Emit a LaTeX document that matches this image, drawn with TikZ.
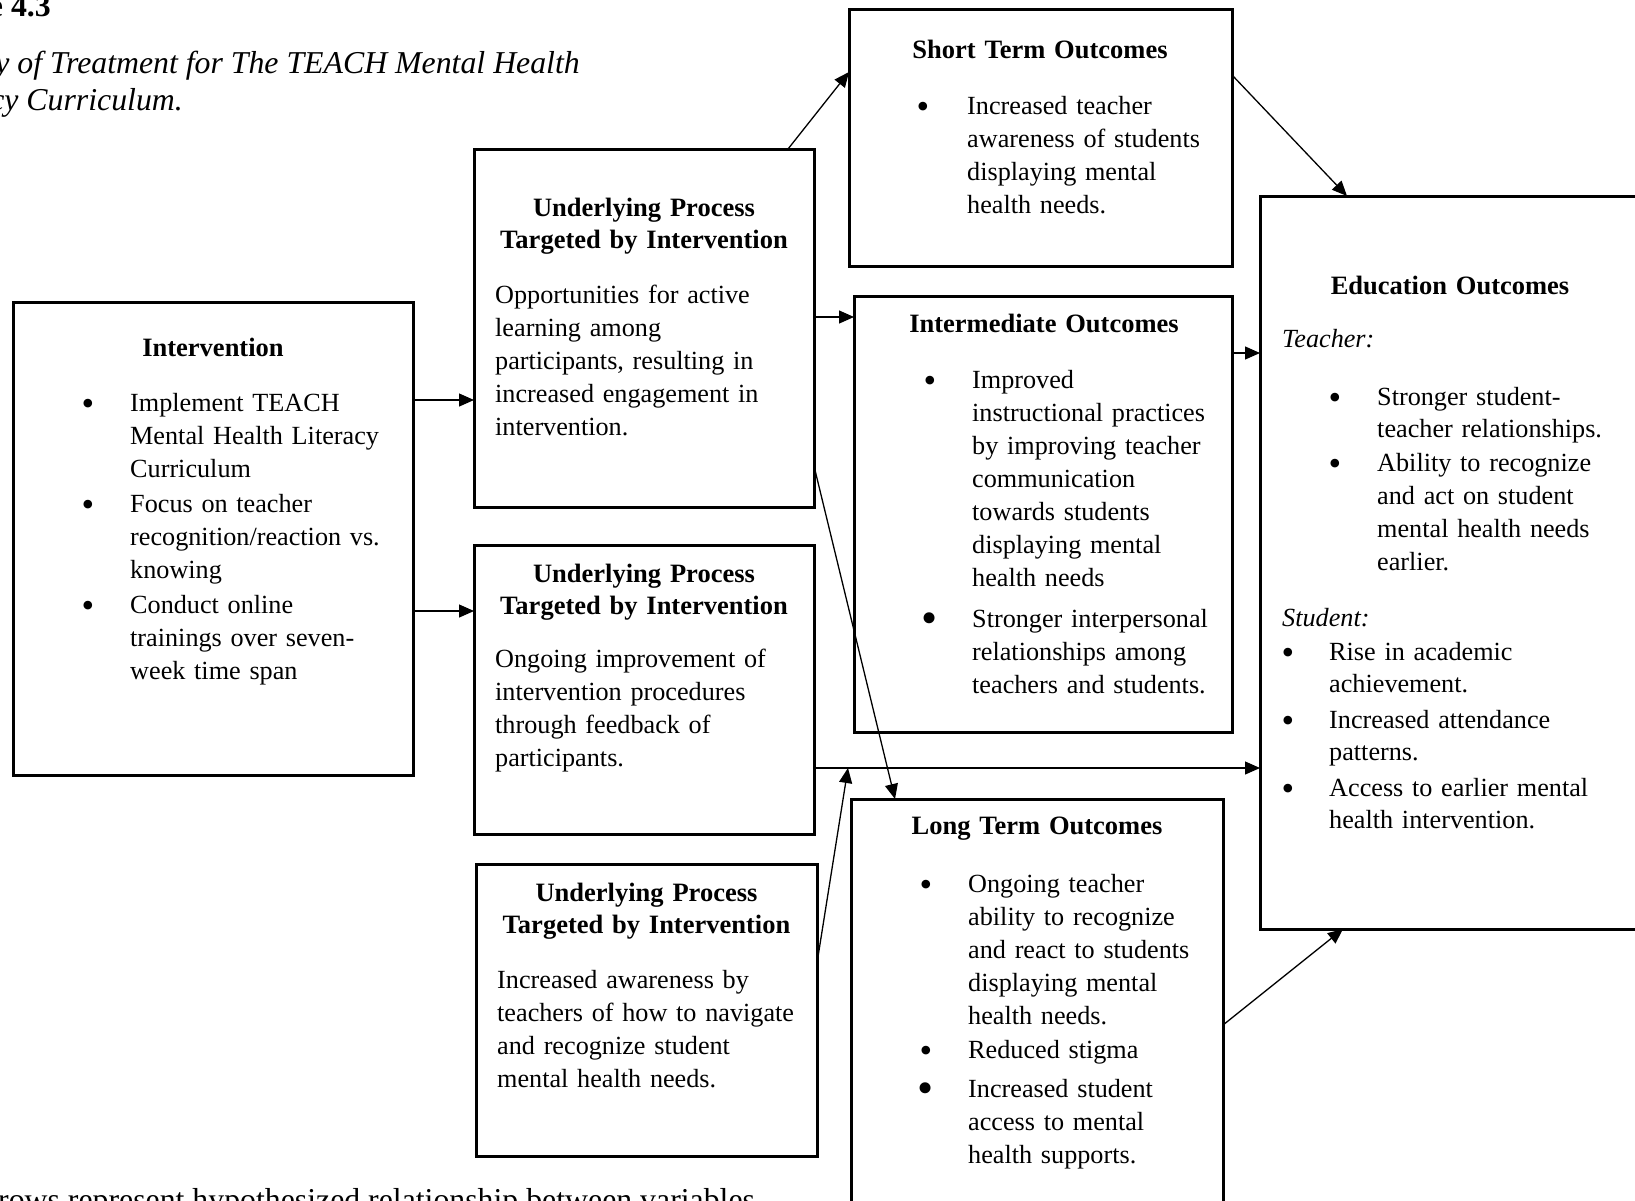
\documentclass[tikz,border=0pt]{standalone}
\usepackage{fontspec}
\setmainfont{Liberation Serif}
\usetikzlibrary{arrows.meta}
\begin{document}
\begin{tikzpicture}[x=1pt,y=-1pt,
  box/.style={draw, line width=3pt, inner sep=0pt, outer sep=0pt},
  arr/.style={line width=1.3pt, -{Triangle[length=15pt,width=13pt]}},
  body/.style={anchor=base west, inner sep=0pt, text width=420pt, align=left, font=\fontsize{26.2pt}{33pt}\selectfont},
  edubody/.style={body, font=\fontsize{26.2pt}{32pt}\selectfont},
  ttl/.style={anchor=base, inner sep=0pt, text width=370pt, align=center, font=\fontsize{26.5pt}{32pt}\selectfont\bfseries},
  bul/.style={anchor=base, inner sep=0pt, yshift=-4pt, font=\fontsize{36pt}{36pt}\selectfont},
  bigbul/.style={anchor=base, inner sep=0pt, yshift=-6.5pt, font=\fontsize{46pt}{46pt}\selectfont},
  captxt/.style={inner sep=0pt, font=\fontsize{31.8pt}{37pt}\selectfont}
]
\useasboundingbox (0,0) rectangle (1635,1200);
\clip (0,0) rectangle (1635,1200);

% page fragments (the reference is cropped from a page)
\node[captxt, anchor=base east] (fig) at (51,16) {\bfseries e 4.3};
\node[captxt, anchor=base east] (cap1) at (580,73) {\itshape y of Treatment for The TEACH Mental Health};
\node[captxt, anchor=base east] (cap2) at (183,110) {\itshape cy Curriculum.};
\node[captxt, anchor=base west] (note) at (-2,1210) {rows represent hypothesized relationship between variables};

% boxes
\node[box, minimum width=400pt, minimum height=473pt] (int) at (213,538.5) {};
\node[box, minimum width=340pt, minimum height=358pt] (up1) at (644,328) {};
\node[box, minimum width=340pt, minimum height=289pt] (up2) at (644,689.5) {};
\node[box, minimum width=341pt, minimum height=292pt] (up3) at (646.5,1010) {};
\node[box, minimum width=383pt, minimum height=257pt] (st) at (1040.5,137.5) {};
\node[box, minimum width=378pt, minimum height=436pt] (im) at (1043,514) {};
\node[box, minimum width=372pt, minimum height=461pt] (lt) at (1037,1029.5) {};
\node[box, minimum width=440pt, minimum height=733pt] (edu) at (1480,562.5) {};

% Intervention
\node[ttl] (intT) at (213,356) {Intervention};
\node[bul] (intB1) at (88,411) {•};
\node[body] (intL1) at (130,411) {Implement TEACH\\Mental Health Literacy\\Curriculum};
\node[bul] (intB2) at (88,512) {•};
\node[body] (intL2) at (130,512) {Focus on teacher\\recognition/reaction vs.\\knowing};
\node[bul] (intB3) at (88,613) {•};
\node[body] (intL3) at (130,613) {Conduct online\\trainings over seven-\\week time span};

% Underlying processes
\node[ttl] (up1T) at (644,216) {Underlying Process\\Targeted by Intervention};
\node[body] (up1L) at (495,303) {Opportunities for active\\learning among\\participants, resulting in\\increased engagement in\\intervention.};
\node[ttl] (up2T) at (644,582) {Underlying Process\\Targeted by Intervention};
\node[body] (up2L) at (495,667) {Ongoing improvement of\\intervention procedures\\through feedback of\\participants.};
\node[ttl] (up3T) at (646.5,901) {Underlying Process\\Targeted by Intervention};
\node[body] (up3L) at (497,988) {Increased awareness by\\teachers of how to navigate\\and recognize student\\mental health needs.};

% Short term
\node[ttl] (stT) at (1040,58) {Short Term Outcomes};
\node[bul] (stB1) at (923,114) {•};
\node[body] (stL1) at (967,114) {Increased teacher\\awareness of students\\displaying mental\\health needs.};

% Intermediate
\node[ttl] (imT) at (1044,332) {Intermediate Outcomes};
\node[bul] (imB1) at (930,388) {•};
\node[body] (imL1) at (972,388) {Improved\\instructional practices\\by improving teacher\\communication\\towards students\\displaying mental\\health needs};
\node[bigbul] (imB2) at (930,627) {•};
\node[body] (imL2) at (972,627) {Stronger interpersonal\\relationships among\\teachers and students.};

% Long term
\node[ttl] (ltT) at (1037,834) {Long Term Outcomes};
\node[bul] (ltB1) at (926,892) {•};
\node[body] (ltL1) at (968,892) {Ongoing teacher\\ability to recognize\\and react to students\\displaying mental\\health needs.};
\node[bul] (ltB2) at (926,1058) {•};
\node[body] (ltL2) at (968,1058) {Reduced stigma};
\node[bigbul] (ltB3) at (926,1097) {•};
\node[body] (ltL3) at (968,1097) {Increased student\\access to mental\\health supports.};

% Education
\node[ttl] (eduT) at (1450,294) {Education Outcomes};
\node[body] (eduTe) at (1282,347) {\itshape Teacher:};
\node[bul] (eduB1) at (1335,405) {•};
\node[edubody] (eduL1) at (1377,405) {Stronger student-\\teacher relationships.};
\node[bul] (eduB2) at (1335,471) {•};
\node[body] (eduL2) at (1377,471) {Ability to recognize\\and act on student\\mental health needs\\earlier.};
\node[body] (eduSt) at (1282,626) {\itshape Student:};
\node[bul] (eduB3) at (1288,660) {•};
\node[edubody] (eduL3) at (1329,660) {Rise in academic\\achievement.};
\node[bul] (eduB4) at (1288,728) {•};
\node[edubody] (eduL4) at (1329,728) {Increased attendance\\patterns.};
\node[bul] (eduB5) at (1288,796) {•};
\node[edubody] (eduL5) at (1329,796) {Access to earlier mental\\health intervention.};

% connectors
\draw[arr] ([yshift=-98pt]int.north east) -- ([yshift=-251pt]up1.north west);
\draw[arr] ([yshift=-309pt]int.north east) -- ([yshift=-66pt]up2.north west);
\draw[arr] ([xshift=314pt]up1.north west) -- ([yshift=-63pt]st.north west);
\draw[arr] ([yshift=-168pt]up1.north east) -- ([yshift=-21pt]im.north west);
\draw[arr] ([yshift=-317pt]up1.north east) -- ([xshift=44pt]lt.north west);
\draw[arr] ([yshift=-223pt]up2.north east) -- coordinate[pos=0.0762] (meet) ([yshift=-572pt]edu.north west);
\draw[arr] ([yshift=-99pt]up3.north east) -- (meet);
\draw[arr] ([yshift=-66pt]st.north east) -- ([xshift=87pt]edu.north west);
\draw[arr] ([yshift=-57pt]im.north east) -- ([yshift=-157pt]edu.north west);
\draw[arr] ([yshift=-226pt]lt.north east) -- ([xshift=83pt]edu.south west);
\end{tikzpicture}
\end{document}
